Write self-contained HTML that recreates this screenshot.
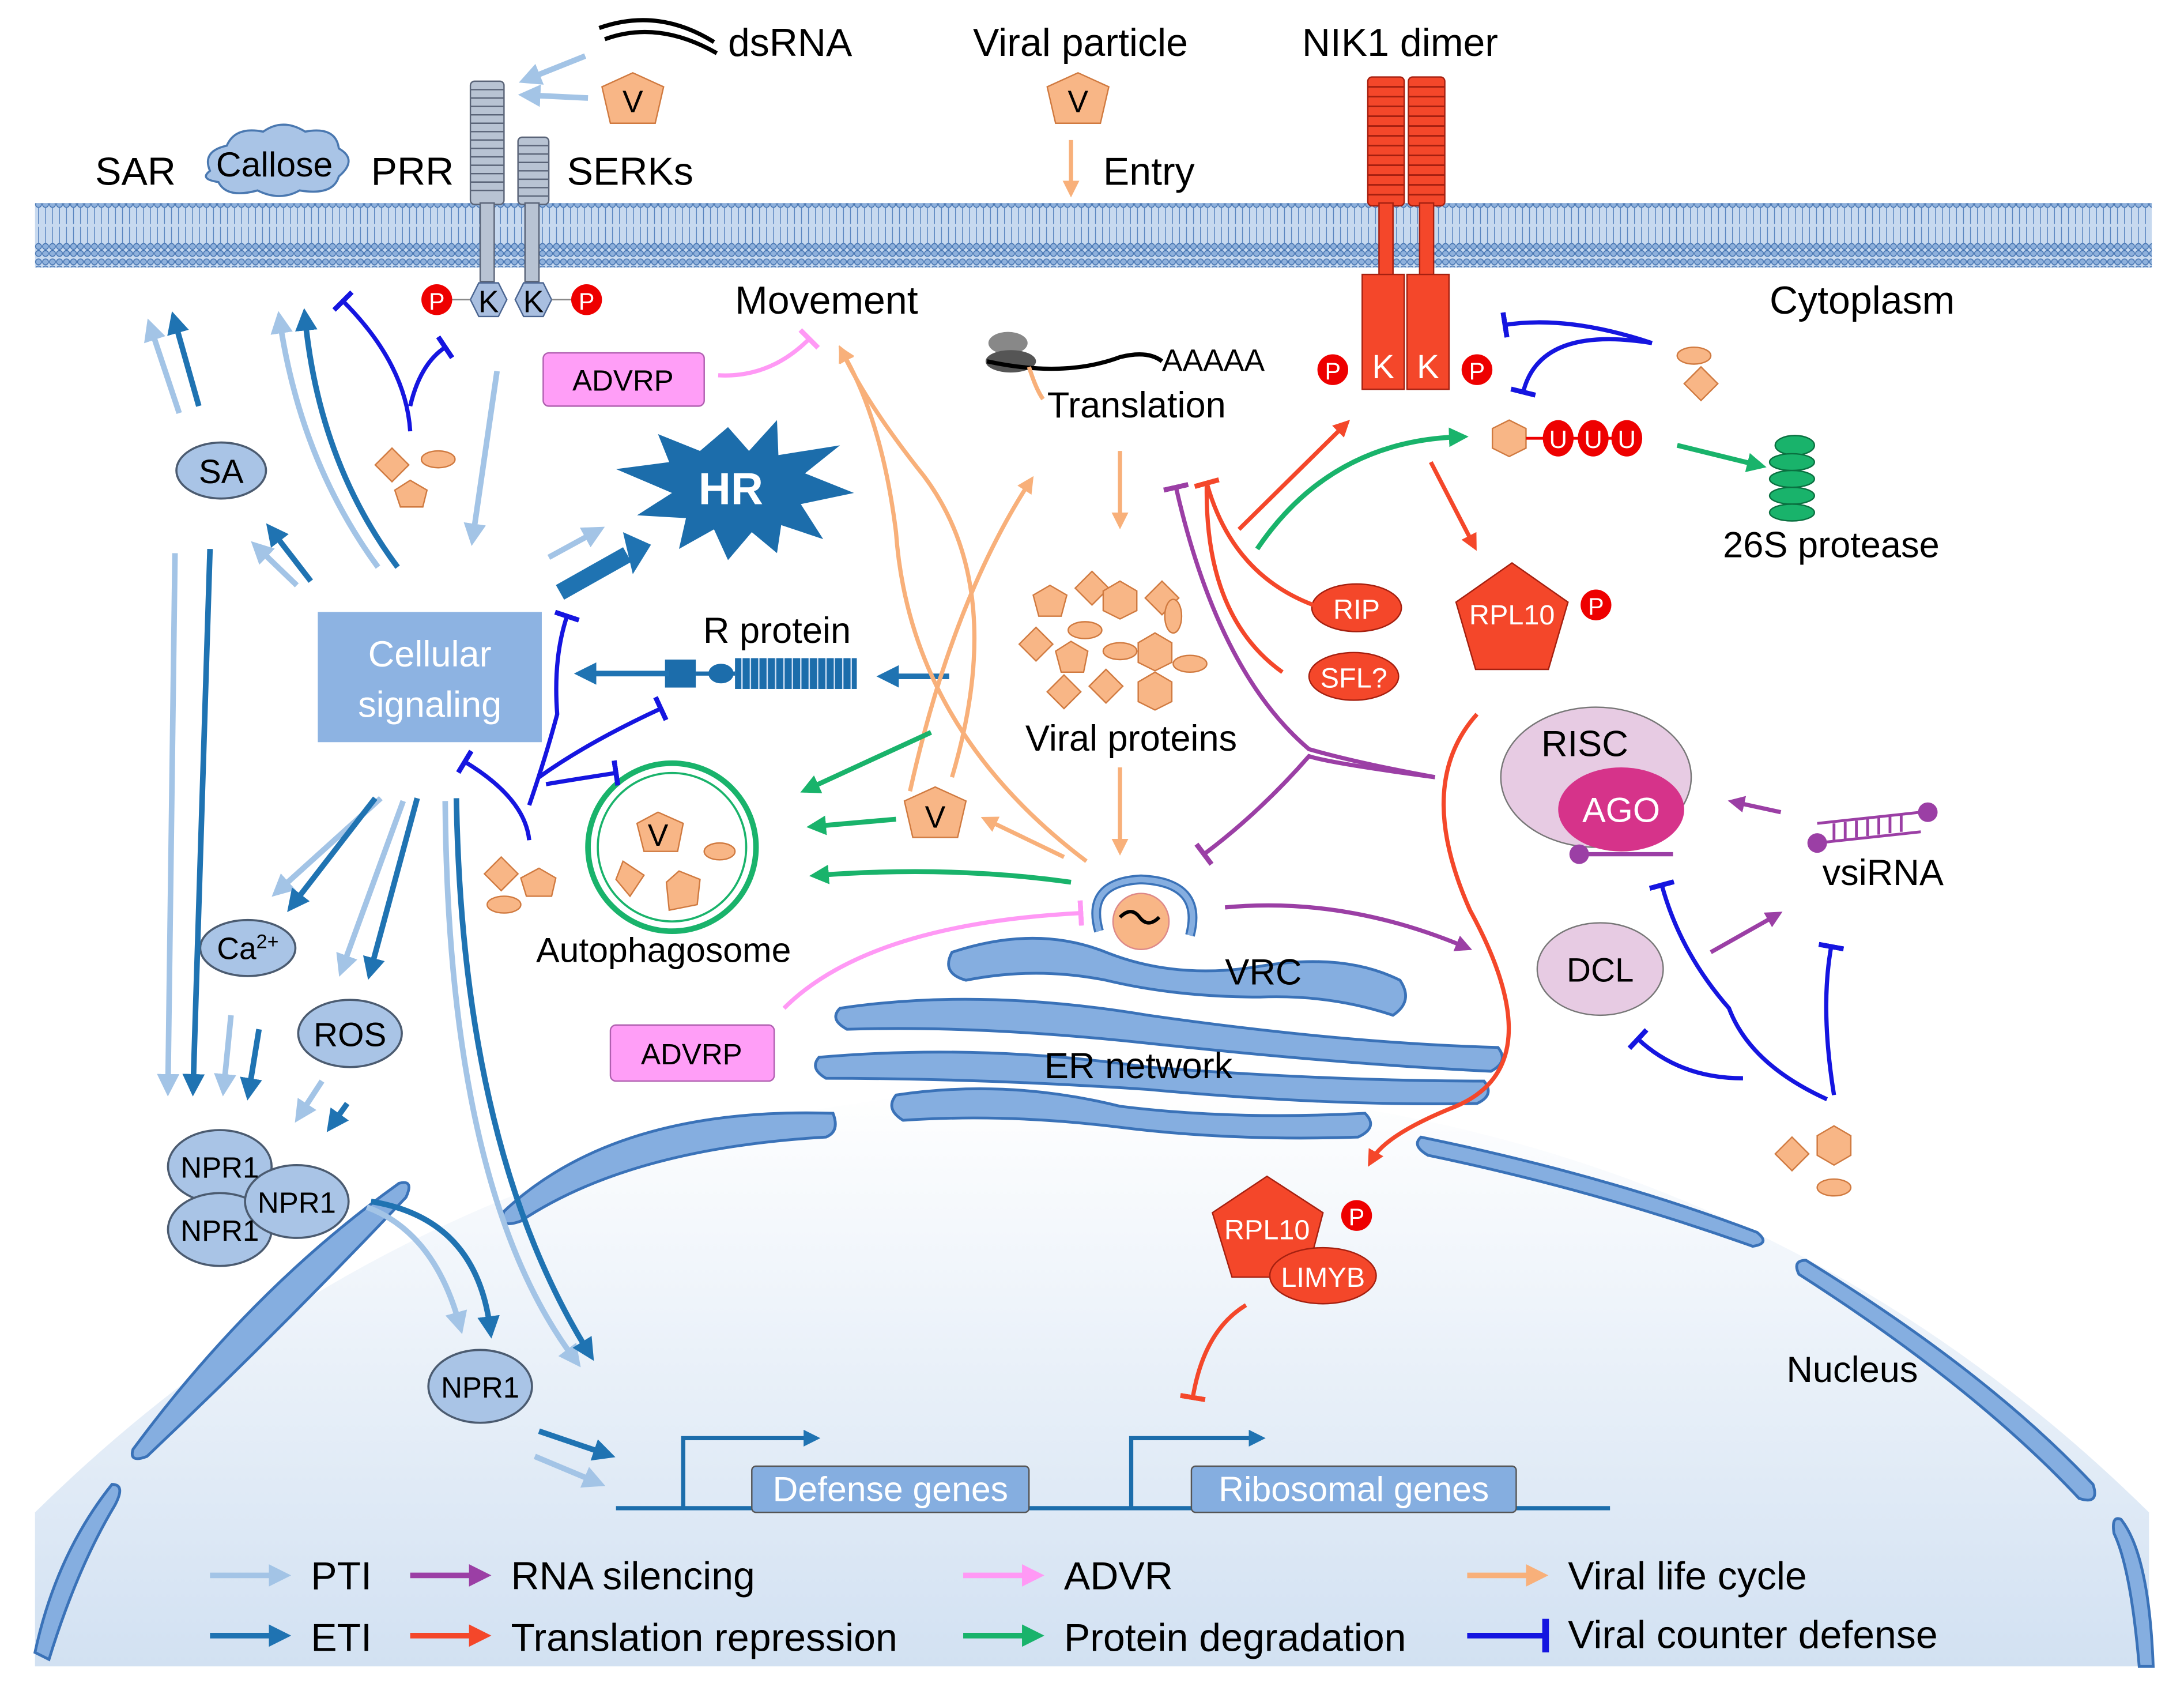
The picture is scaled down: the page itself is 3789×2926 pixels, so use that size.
<!DOCTYPE html>
<html><head><meta charset="utf-8"><style>
html,body{margin:0;padding:0;background:#fff;}
svg{display:block;}
text{font-family:"Liberation Sans",Arial,sans-serif;}
</style></head><body>
<svg width="3789" height="2926" viewBox="0 0 1560 1204.7" preserveAspectRatio="none" xmlns="http://www.w3.org/2000/svg">
<defs>
<linearGradient id="nuc" x1="0" y1="0" x2="0" y2="1">
<stop offset="0" stop-color="#ffffff"/><stop offset="1" stop-color="#d2e1f2"/></linearGradient>
<pattern id="mem" width="5" height="46" patternUnits="userSpaceOnUse">
<rect width="5" height="46" fill="#c7d9ef"/>
<circle cx="2.5" cy="3" r="2.1" fill="#8fb1dc" stroke="#3f6fae" stroke-width="0.6"/>
<circle cx="2.5" cy="8" r="2.1" fill="#8fb1dc" stroke="#3f6fae" stroke-width="0.6"/>
<circle cx="2.5" cy="38" r="2.1" fill="#8fb1dc" stroke="#3f6fae" stroke-width="0.6"/>
<circle cx="2.5" cy="43" r="2.1" fill="#8fb1dc" stroke="#3f6fae" stroke-width="0.6"/>
<line x1="2.5" y1="10" x2="2.5" y2="22" stroke="#5b86c0" stroke-width="0.6"/>
<line x1="2.5" y1="24" x2="2.5" y2="36" stroke="#5b86c0" stroke-width="0.6"/>
</pattern>
<marker id="aL" markerWidth="4" markerHeight="4" refX="2" refY="2" orient="auto" markerUnits="strokeWidth"><path d="M0,0L4,2L0,4z" fill="#a3c4e6"/></marker>
<marker id="aD" markerWidth="4" markerHeight="4" refX="2" refY="2" orient="auto" markerUnits="strokeWidth"><path d="M0,0L4,2L0,4z" fill="#1f73b2"/></marker>
<marker id="aO" markerWidth="4" markerHeight="4" refX="2" refY="2" orient="auto" markerUnits="strokeWidth"><path d="M0,0L4,2L0,4z" fill="#f8b07a"/></marker>
<marker id="aG" markerWidth="4" markerHeight="4" refX="2" refY="2" orient="auto" markerUnits="strokeWidth"><path d="M0,0L4,2L0,4z" fill="#19b36b"/></marker>
<marker id="aR" markerWidth="4" markerHeight="4" refX="2" refY="2" orient="auto" markerUnits="strokeWidth"><path d="M0,0L4,2L0,4z" fill="#f4472a"/></marker>
<marker id="aP" markerWidth="4" markerHeight="4" refX="2" refY="2" orient="auto" markerUnits="strokeWidth"><path d="M0,0L4,2L0,4z" fill="#9b3fa5"/></marker>
<marker id="aK" markerWidth="4" markerHeight="4" refX="2" refY="2" orient="auto" markerUnits="strokeWidth"><path d="M0,0L4,2L0,4z" fill="#ff99f5"/></marker>
<marker id="bB" markerWidth="1.2" markerHeight="6" refX="0.6" refY="3" orient="auto" markerUnits="strokeWidth"><rect x="0" y="0" width="1.2" height="6" fill="#1515e0"/></marker>
<marker id="bR" markerWidth="1.2" markerHeight="6" refX="0.6" refY="3" orient="auto" markerUnits="strokeWidth"><rect x="0" y="0" width="1.2" height="6" fill="#f4472a"/></marker>
<marker id="bP" markerWidth="1.2" markerHeight="6" refX="0.6" refY="3" orient="auto" markerUnits="strokeWidth"><rect x="0" y="0" width="1.2" height="6" fill="#9b3fa5"/></marker>
<marker id="bK" markerWidth="1.2" markerHeight="6" refX="0.6" refY="3" orient="auto" markerUnits="strokeWidth"><rect x="0" y="0" width="1.2" height="6" fill="#ff99f5"/></marker>
</defs>

<path d="M25,1190 L25,1080 Q330,780 780,775 Q1230,780 1535,1080 L1535,1190 Z" fill="url(#nuc)"/>
<g fill="#85aee0" stroke="#3a72b8" stroke-width="2">
<path d="M360,865 Q440,790 595,795 Q600,808 590,812 Q450,820 372,872 Q355,878 360,865Z"/>
<path d="M95,1035 Q180,920 285,845 Q296,842 290,855 Q200,950 105,1040 Q92,1045 95,1035Z"/>
<path d="M25,1180 Q40,1110 80,1060 Q90,1060 82,1075 Q55,1120 35,1185Z"/>
<path d="M1015,812 Q1150,840 1255,880 Q1265,888 1252,890 Q1140,850 1020,825 Q1008,818 1015,812Z"/>
<path d="M1290,900 Q1420,980 1495,1060 Q1500,1075 1485,1070 Q1410,990 1285,910 Q1280,900 1290,900Z"/>
<path d="M1515,1085 Q1535,1110 1538,1190 L1528,1190 Q1522,1120 1510,1095 Q1508,1082 1515,1085Z"/>
</g>

<rect x="25" y="145" width="1512" height="46" fill="url(#mem)"/>

<g fill="#85aee0" stroke="#3a72b8" stroke-width="2">
<path d="M680,680 Q740,660 790,680 Q840,700 900,690 Q960,680 1000,700 Q1010,715 995,725 Q950,710 900,712 Q840,712 790,700 Q740,690 690,700 Q672,695 680,680Z"/>
<path d="M600,720 Q700,705 820,725 Q960,745 1070,748 Q1078,758 1065,765 Q960,760 820,745 Q700,732 605,735 Q592,728 600,720Z"/>
<path d="M585,755 Q700,745 820,762 Q950,772 1060,772 Q1068,782 1055,788 Q950,790 820,778 Q700,770 590,770 Q578,763 585,755Z"/>
<path d="M640,782 Q720,770 800,790 Q880,800 975,795 Q985,805 970,812 Q880,815 800,805 Q720,795 645,800 Q632,792 640,782Z"/>
</g>

<path d="M785,665 Q775,630 815,628 Q860,630 850,668" fill="none" stroke="#3a72b8" stroke-width="7"/>
<path d="M785,665 Q775,630 815,628 Q860,630 850,668" fill="none" stroke="#85aee0" stroke-width="4"/>
<circle cx="815" cy="658" r="20" fill="#f8b686" stroke="#d88"/>
<path d="M800,655 q8,-8 14,0 q6,8 14,0" fill="none" stroke="#000" stroke-width="2.5"/>
<text x="875" y="703" font-size="26">VRC</text>
<text x="746" y="770" font-size="26">ER network</text>

<g fill="#b8c3d3" stroke="#5a6478" stroke-width="1">
<rect x="336" y="58" width="24" height="88" rx="3"/>
<rect x="370" y="98" width="22" height="48" rx="3"/>
</g>
<g stroke="#5a6478" stroke-width="1">
<path d="M336,64h24M336,70h24M336,76h24M336,82h24M336,88h24M336,94h24M336,100h24M336,106h24M336,112h24M336,118h24M336,124h24M336,130h24M336,136h24M370,104h22M370,110h22M370,116h22M370,122h22M370,128h22M370,134h22M370,140h22"/>
</g>
<rect x="343" y="145" width="10" height="56" fill="#b8c3d3" stroke="#5a6478"/>
<rect x="375" y="145" width="10" height="56" fill="#b8c3d3" stroke="#5a6478"/>
<polygon points="336,214 342,202 356,202 362,214 356,226 342,226" fill="#a9bfe0" stroke="#4a6490"/>
<polygon points="368,214 374,202 388,202 394,214 388,226 374,226" fill="#a9bfe0" stroke="#4a6490"/>
<text x="349" y="223" font-size="22" text-anchor="middle">K</text>
<text x="381" y="223" font-size="22" text-anchor="middle">K</text>
<line x1="322" y1="214" x2="336" y2="214" stroke="#888"/><line x1="394" y1="214" x2="408" y2="214" stroke="#888"/>
<circle cx="312" cy="214" r="11" fill="#e00"/><text x="312" y="221" font-size="17" fill="#fff" text-anchor="middle">P</text>
<circle cx="419" cy="214" r="11" fill="#e00"/><text x="419" y="221" font-size="17" fill="#fff" text-anchor="middle">P</text>

<g fill="#f4472a" stroke="#a52010" stroke-width="1">
<rect x="977" y="55" width="26" height="92" rx="3"/>
<rect x="1006" y="55" width="26" height="92" rx="3"/>
<rect x="985" y="145" width="10" height="52"/>
<rect x="1014" y="145" width="10" height="52"/>
<rect x="973" y="196" width="30" height="82"/>
<rect x="1005" y="196" width="30" height="82"/>
</g>
<g stroke="#a52010" stroke-width="1.2"><path d="M977,62h26M977,69h26M977,76h26M977,83h26M977,90h26M977,97h26M977,104h26M977,111h26M977,118h26M977,125h26M977,132h26M977,139h26M1006,62h26M1006,69h26M1006,76h26M1006,83h26M1006,90h26M1006,97h26M1006,104h26M1006,111h26M1006,118h26M1006,125h26M1006,132h26M1006,139h26"/></g>
<text x="988" y="270" font-size="24" fill="#fff" text-anchor="middle">K</text>
<text x="1020" y="270" font-size="24" fill="#fff" text-anchor="middle">K</text>
<circle cx="952" cy="264" r="11" fill="#e00"/><text x="952" y="271" font-size="17" fill="#fff" text-anchor="middle">P</text>
<circle cx="1055" cy="264" r="11" fill="#e00"/><text x="1055" y="271" font-size="17" fill="#fff" text-anchor="middle">P</text>

<path d="M428,20 Q470,5 510,30 M432,28 Q470,14 512,38" fill="none" stroke="#000" stroke-width="3"/>
<text x="520" y="40" font-size="28">dsRNA</text>
<polygon points="452,52 474,62 468,88 436,88 430,62" fill="#f8b686" stroke="#d07a40"/><text x="452" y="80" font-size="22" text-anchor="middle">V</text>
<text x="695" y="40" font-size="28">Viral particle</text>
<polygon points="770,52 792,62 786,88 754,88 748,62" fill="#f8b686" stroke="#d07a40"/><text x="770" y="80" font-size="22" text-anchor="middle">V</text>
<text x="930" y="40" font-size="28">NIK1 dimer</text>
<text x="68" y="132" font-size="28">SAR</text>
<path d="M150,122 q-6,-14 12,-18 q6,-14 26,-10 q14,-10 30,0 q22,-4 24,12 q14,8 0,20 q-4,14 -28,10 q-14,8 -30,0 q-22,6 -28,-6 q-14,-2 -6,-8z" fill="#a9c4e6" stroke="#4a78b0" stroke-width="1.5"/>
<text x="196" y="126" font-size="25" text-anchor="middle">Callose</text>
<text x="265" y="132" font-size="28">PRR</text>
<text x="405" y="132" font-size="28">SERKs</text>
<text x="788" y="132" font-size="28">Entry</text>
<text x="525" y="224" font-size="28">Movement</text>
<text x="1264" y="224" font-size="28">Cytoplasm</text>

<ellipse cx="720" cy="245" rx="14" ry="8" fill="#888"/><ellipse cx="722" cy="258" rx="18" ry="8" fill="#555"/>
<path d="M705,258 Q760,270 800,255 Q820,250 830,258" fill="none" stroke="#000" stroke-width="3"/>
<path d="M735,262 Q740,278 745,285" stroke="#f8b07a" stroke-width="3" fill="none"/>
<text x="830" y="265" font-size="22">AAAAA</text>
<text x="748" y="298" font-size="26">Translation</text>

<rect x="388" y="252" width="115" height="38" rx="4" fill="#ff9ef7" stroke="#b060b0"/><text x="445" y="279" font-size="21" text-anchor="middle">ADVRP</text>
<rect x="436" y="732" width="117" height="40" rx="4" fill="#ff9ef7" stroke="#b060b0"/><text x="494" y="760" font-size="21" text-anchor="middle">ADVRP</text>

<polygon points="520,305 535,322 555,300 556,325 600,318 575,338 610,352 572,360 588,385 558,375 555,395 537,380 520,400 510,378 485,392 490,370 455,368 480,352 440,335 478,330 470,310 500,322" fill="#1c6dab"/>
<text x="522" y="360" font-size="32" font-weight="bold" fill="#fff" text-anchor="middle">HR</text>

<rect x="227" y="437" width="160" height="93" fill="#8db3e2"/>
<text x="307" y="476" font-size="26" fill="#fff" text-anchor="middle">Cellular</text>
<text x="307" y="512" font-size="26" fill="#fff" text-anchor="middle">signaling</text>

<g fill="#a9c4e6" stroke="#4b5b70" stroke-width="1.5">
<ellipse cx="158" cy="336" rx="32" ry="20"/>
<ellipse cx="177" cy="677" rx="34" ry="20"/>
<ellipse cx="250" cy="738" rx="37" ry="24"/>
<ellipse cx="157" cy="833" rx="37" ry="26"/>
<ellipse cx="157" cy="878" rx="37" ry="26"/>
<ellipse cx="212" cy="858" rx="37" ry="26"/>
<ellipse cx="343" cy="990" rx="37" ry="26"/>
</g>
<text x="158" y="345" font-size="24" text-anchor="middle">SA</text>
<text x="177" y="685" font-size="22" text-anchor="middle">Ca<tspan font-size="14" dy="-8">2+</tspan></text>
<text x="250" y="747" font-size="24" text-anchor="middle">ROS</text>
<text x="157" y="841" font-size="21" text-anchor="middle">NPR1</text>
<text x="157" y="886" font-size="21" text-anchor="middle">NPR1</text>
<text x="212" y="866" font-size="21" text-anchor="middle">NPR1</text>
<text x="343" y="998" font-size="21" text-anchor="middle">NPR1</text>

<text x="555" y="459" font-size="26" text-anchor="middle">R protein</text>
<rect x="475" y="471" width="22" height="20" fill="#1c6dab"/>
<line x1="497" y1="481" x2="525" y2="481" stroke="#1c6dab" stroke-width="3"/>
<ellipse cx="515" cy="481" rx="9" ry="7" fill="#1c6dab"/>
<rect x="525" y="470" width="87" height="22" fill="#1c6dab"/>
<path d="M530,470v22M536,470v22M542,470v22M548,470v22M554,470v22M560,470v22M566,470v22M572,470v22M578,470v22M584,470v22M590,470v22M596,470v22M602,470v22M608,470v22" stroke="#cfe0f5" stroke-width="1"/>

<g fill="#f8b686" stroke="#d07a40" stroke-width="1">
<polygon points="280,320 292,332 280,344 268,332"/><ellipse cx="313" cy="328" rx="12" ry="6"/><polygon points="293,343 305,350 302,362 286,362 282,350"/>
<polygon points="358,612 370,624 358,636 346,624"/><polygon points="385,620 397,627 394,640 376,640 372,627"/><ellipse cx="360" cy="646" rx="12" ry="6"/>
<polygon points="1215,262 1227,274 1215,286 1203,274"/><ellipse cx="1210" cy="254" rx="12" ry="6"/>
<polygon points="1078,300 1090,306 1090,320 1078,326 1066,320 1066,306"/>
<polygon points="1280,812 1292,824 1280,836 1268,824"/><polygon points="1310,804 1322,811 1322,825 1310,832 1298,825 1298,811"/><ellipse cx="1310" cy="848" rx="12" ry="6"/>
<polygon points="780,408 792,420 780,432 768,420"/><polygon points="750,418 762,425 758,440 742,440 738,425"/><polygon points="800,415 812,422 812,436 800,442 788,436 788,422"/><polygon points="830,415 842,427 830,439 818,427"/>
<ellipse cx="775" cy="450" rx="12" ry="6"/><polygon points="740,448 752,460 740,472 728,460"/><polygon points="765,458 777,465 774,480 758,480 754,465"/><ellipse cx="800" cy="465" rx="12" ry="6"/><polygon points="825,452 837,459 837,473 825,479 813,473 813,459"/><ellipse cx="838" cy="440" rx="6" ry="12"/><ellipse cx="850" cy="474" rx="12" ry="6"/>
<polygon points="760,482 772,494 760,506 748,494"/><polygon points="790,478 802,490 790,502 778,490"/><polygon points="825,480 837,487 837,501 825,507 813,501 813,487"/>
<polygon points="668,562 690,572 684,598 652,598 646,572"/>
</g>
<text x="668" y="591" font-size="22" text-anchor="middle">V</text>
<text x="808" y="536" font-size="26" text-anchor="middle">Viral proteins</text>

<circle cx="480" cy="605" r="60" fill="none" stroke="#19b36b" stroke-width="4"/>
<circle cx="480" cy="605" r="53" fill="none" stroke="#19b36b" stroke-width="1.5"/>
<g fill="#f8b686" stroke="#d07a40"><polygon points="470,580 488,588 484,608 460,608 455,588"/><polygon points="445,615 460,625 450,640 440,628"/><polygon points="485,622 500,628 498,646 478,650 476,630"/><ellipse cx="514" cy="608" rx="11" ry="6"/></g>
<text x="470" y="604" font-size="22" text-anchor="middle">V</text>
<text x="474" y="687" font-size="25" text-anchor="middle">Autophagosome</text>

<line x1="1090" y1="313" x2="1170" y2="313" stroke="#e00" stroke-width="2"/>
<g fill="#e00"><ellipse cx="1113" cy="313" rx="11" ry="13"/><ellipse cx="1138" cy="313" rx="11" ry="13"/><ellipse cx="1162" cy="313" rx="11" ry="13"/></g>
<g fill="#fff" font-size="18" text-anchor="middle"><text x="1113" y="320">U</text><text x="1138" y="320">U</text><text x="1162" y="320">U</text></g>
<g fill="#19b36b" stroke="#0a7040"><ellipse cx="1282" cy="318" rx="14" ry="7"/><ellipse cx="1280" cy="330" rx="16" ry="6"/><ellipse cx="1280" cy="342" rx="16" ry="6"/><ellipse cx="1280" cy="354" rx="16" ry="6"/><ellipse cx="1280" cy="366" rx="16" ry="6"/></g>
<text x="1308" y="398" font-size="26" text-anchor="middle">26S protease</text>

<ellipse cx="969" cy="434" rx="32" ry="17" fill="#f4472a" stroke="#a52010"/><text x="969" y="442" font-size="20" fill="#fff" text-anchor="middle">RIP</text>
<ellipse cx="967" cy="483" rx="32" ry="17" fill="#f4472a" stroke="#a52010"/><text x="967" y="491" font-size="20" fill="#fff" text-anchor="middle">SFL?</text>
<polygon points="1080,402 1120,430 1106,478 1054,478 1040,430" fill="#f4472a" stroke="#a52010"/>
<text x="1080" y="446" font-size="20" fill="#fff" text-anchor="middle">RPL10</text>
<circle cx="1140" cy="432" r="11" fill="#e00"/><text x="1140" y="439" font-size="17" fill="#fff" text-anchor="middle">P</text>
<polygon points="905,840 945,866 933,912 880,912 866,866" fill="#f4472a" stroke="#a52010"/>
<text x="905" y="885" font-size="20" fill="#fff" text-anchor="middle">RPL10</text>
<circle cx="969" cy="868" r="11" fill="#e00"/><text x="969" y="875" font-size="17" fill="#fff" text-anchor="middle">P</text>
<ellipse cx="945" cy="911" rx="38" ry="20" fill="#f4472a" stroke="#a52010"/><text x="945" y="919" font-size="20" fill="#fff" text-anchor="middle">LIMYB</text>

<ellipse cx="1140" cy="555" rx="68" ry="50" fill="#e7cbe3" stroke="#777"/>
<text x="1132" y="540" font-size="26" text-anchor="middle">RISC</text>
<ellipse cx="1158" cy="578" rx="45" ry="30" fill="#d6338a"/>
<text x="1158" y="587" font-size="25" fill="#fff" text-anchor="middle">AGO</text>
<line x1="1128" y1="610" x2="1195" y2="610" stroke="#9b3fa5" stroke-width="3"/><circle cx="1128" cy="610" r="7" fill="#9b3fa5"/>
<ellipse cx="1143" cy="692" rx="45" ry="33" fill="#e7cbe3" stroke="#777"/>
<text x="1143" y="701" font-size="24" text-anchor="middle">DCL</text>
<line x1="1298" y1="588" x2="1372" y2="580" stroke="#9b3fa5" stroke-width="2"/>
<line x1="1298" y1="602" x2="1372" y2="594" stroke="#9b3fa5" stroke-width="2"/>
<path d="M1310,588v12M1318,587v12M1326,586v12M1334,585v12M1342,584v12M1350,583v12M1358,582v12" stroke="#9b3fa5" stroke-width="2"/>
<circle cx="1298" cy="602" r="7" fill="#9b3fa5"/><circle cx="1377" cy="580" r="7" fill="#9b3fa5"/>
<text x="1345" y="632" font-size="26" text-anchor="middle">vsiRNA</text>

<text x="1323" y="987" font-size="26" text-anchor="middle">Nucleus</text>

<line x1="440" y1="1077" x2="1150" y2="1077" stroke="#1c6dab" stroke-width="3"/>
<path d="M488,1077V1027H580" fill="none" stroke="#1c6dab" stroke-width="3" marker-end="url(#aD)"/>
<path d="M808,1077V1027H898" fill="none" stroke="#1c6dab" stroke-width="3" marker-end="url(#aD)"/>
<rect x="537" y="1047" width="198" height="33" rx="3" fill="#85aee0" stroke="#555"/>
<text x="636" y="1072" font-size="25" fill="#fff" text-anchor="middle">Defense genes</text>
<rect x="851" y="1047" width="232" height="33" rx="3" fill="#85aee0" stroke="#555"/>
<text x="967" y="1072" font-size="25" fill="#fff" text-anchor="middle">Ribosomal genes</text>

<g fill="none" stroke="#a3c4e6" stroke-width="4" marker-end="url(#aL)">
<path d="M128,295 L108,235"/>
<path d="M270,405 Q215,330 200,230"/>
<path d="M212,418 L185,392"/>
<path d="M355,265 L338,382"/>
<path d="M392,398 L425,380"/>
<path d="M418,40 L378,56"/>
<path d="M420,70 L378,68"/>
<path d="M125,395 L120,775"/>
<path d="M165,725 L160,775"/>
<path d="M230,772 L215,795"/>
<path d="M272,570 L200,635"/>
<path d="M288,572 L245,690"/>
<path d="M318,572 Q320,850 410,970"/>
<path d="M262,862 Q310,880 328,945"/>
<path d="M382,1040 L425,1058"/>
</g>
<g fill="none" stroke="#1f73b2" stroke-width="4" marker-end="url(#aD)">
<path d="M142,290 L125,230"/>
<path d="M284,405 Q228,330 218,228"/>
<path d="M222,415 L195,380"/>
<path d="M150,392 L138,775"/>
<path d="M185,735 L178,778"/>
<path d="M248,788 L238,802"/>
<path d="M268,570 L210,645"/>
<path d="M298,570 L265,692"/>
<path d="M326,570 Q330,820 420,965"/>
<path d="M265,858 Q340,870 350,948"/>
<path d="M385,1022 L432,1038"/>
<path d="M478,481 L418,481"/>
<path d="M678,483 L634,483"/>
</g>
<path d="M400,423 L448,396" stroke="#1f73b2" stroke-width="12" fill="none"/>
<polygon points="445,380 465,389 452,410" fill="#1f73b2"/>
<g fill="none" stroke="#f8b07a" stroke-width="3" marker-end="url(#aO)">
<path d="M765,100 L765,135"/>
<path d="M800,322 L800,372"/>
<path d="M800,548 L800,605"/>
<path d="M680,555 Q720,420 660,340 Q620,290 602,252"/>
<path d="M776,615 Q650,520 640,380 Q630,300 602,252"/>
<path d="M650,565 Q680,430 735,345"/>
<path d="M760,612 L706,586"/>
</g>
<g fill="none" stroke="#19b36b" stroke-width="3.5" marker-end="url(#aG)">
<path d="M665,523 L578,563"/>
<path d="M640,585 L583,590"/>
<path d="M765,630 Q680,618 585,625"/>
<path d="M898,392 Q950,315 1042,312"/>
<path d="M1198,318 L1255,332"/>
</g>
<g fill="none" stroke="#f4472a" stroke-width="3" marker-end="url(#aR)">
<path d="M885,378 L960,304"/>
<path d="M1022,330 L1052,388"/>
<path d="M1055,510 Q1010,560 1050,650 Q1110,760 1040,790 Q990,810 980,828"/>
</g>
<g fill="none" stroke="#f4472a" stroke-width="3">
<path d="M938,432 Q880,410 862,345" marker-end="url(#bR)"/>
<path d="M916,480 Q860,440 862,345"/>
<path d="M890,932 Q860,950 852,998" marker-end="url(#bR)"/>
</g>
<g fill="none" stroke="#9b3fa5" stroke-width="3">
<path d="M1025,555 Q970,545 935,535 Q870,480 840,348" marker-end="url(#bP)"/>
<path d="M1025,555 Q950,545 935,540 Q900,580 860,610" marker-end="url(#bP)"/>
<path d="M875,648 Q960,640 1046,676" marker-end="url(#aP)"/>
<path d="M1272,580 L1240,573" marker-end="url(#aP)"/>
<path d="M1222,680 L1268,654" marker-end="url(#aP)"/>
</g>
<g fill="none" stroke="#ff99f5" stroke-width="3">
<path d="M513,268 Q550,270 578,242" marker-end="url(#bK)"/>
<path d="M560,720 Q620,660 772,652" marker-end="url(#bK)"/>
</g>
<g fill="none" stroke="#1515e0" stroke-width="3">
<path d="M293,308 Q290,260 245,215" marker-end="url(#bB)"/>
<path d="M293,290 Q300,260 318,248" marker-end="url(#bB)"/>
<path d="M1180,245 Q1120,225 1075,232" marker-end="url(#bB)"/>
<path d="M1180,245 Q1100,232 1088,280" marker-end="url(#bB)"/>
<path d="M378,600 Q375,570 332,544" marker-end="url(#bB)"/>
<path d="M378,575 Q390,540 398,510 Q395,470 405,440" marker-end="url(#bB)"/>
<path d="M385,555 Q420,530 472,506" marker-end="url(#bB)"/>
<path d="M390,560 Q420,555 440,552" marker-end="url(#bB)"/>
<path d="M1305,785 Q1250,760 1235,720 Q1200,680 1187,632" marker-end="url(#bB)"/>
<path d="M1245,770 Q1200,770 1170,742" marker-end="url(#bB)"/>
<path d="M1310,782 Q1300,720 1308,676" marker-end="url(#bB)"/>
</g>

<g stroke-width="4" fill="none">
<path d="M150,1125 H200" stroke="#a3c4e6" marker-end="url(#aL)"/>
<path d="M150,1168 H200" stroke="#1f73b2" marker-end="url(#aD)"/>
<path d="M293,1125 H343" stroke="#9b3fa5" marker-end="url(#aP)"/>
<path d="M293,1168 H343" stroke="#f4472a" marker-end="url(#aR)"/>
<path d="M688,1125 H738" stroke="#ff99f5" marker-end="url(#aK)"/>
<path d="M688,1168 H738" stroke="#19b36b" marker-end="url(#aG)"/>
<path d="M1048,1125 H1098" stroke="#f8b07a" marker-end="url(#aO)"/>
<path d="M1048,1168 H1104" stroke="#1515e0" marker-end="url(#bB)"/>
</g>
<g font-size="28">
<text x="222" y="1135">PTI</text><text x="222" y="1179">ETI</text>
<text x="365" y="1135">RNA silencing</text><text x="365" y="1179">Translation repression</text>
<text x="760" y="1135">ADVR</text><text x="760" y="1179">Protein degradation</text>
<text x="1120" y="1135">Viral life cycle</text><text x="1120" y="1177">Viral counter defense</text>
</g>
</svg>
</body></html>
